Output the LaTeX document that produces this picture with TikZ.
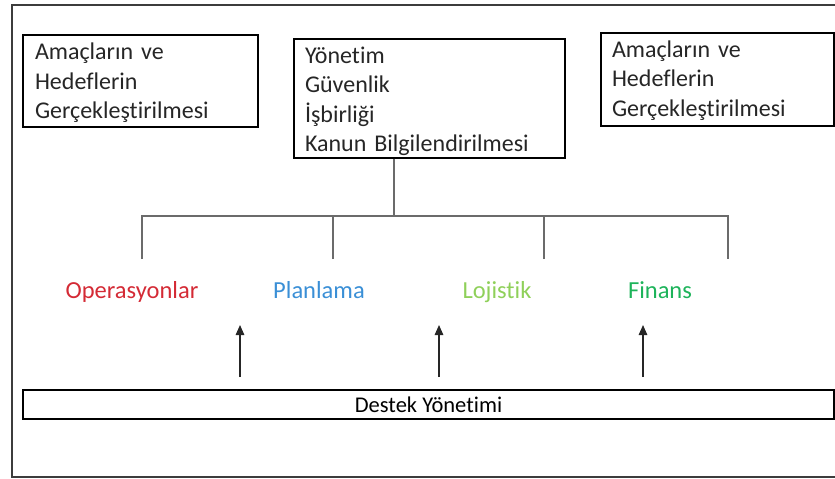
\documentclass[tikz,border=0pt]{standalone}
\usepackage{fontspec}
\setmainfont{Carlito}[Ligatures=NoCommon]
\usetikzlibrary{arrows.meta}
\definecolor{ink}{HTML}{262626}
\definecolor{linegray}{HTML}{6B6B6B}
\definecolor{opred}{HTML}{D42A35}
\definecolor{planblue}{HTML}{3A8FD6}
\definecolor{lojgreen}{HTML}{8FD05A}
\definecolor{fingreen}{HTML}{1DB35A}
% raise the first line's ascent so the text block sits a little lower in its box
\newcommand{\topstrut}[1]{\rule{0pt}{#1}}
\begin{document}
\begin{tikzpicture}[x=1pt,y=-1pt,
  frame/.style={draw=ink!90, line width=1.4pt},
  box/.style={draw=black, line width=1.4pt, rectangle, align=left, inner ysep=0pt,
    font=\fontsize{24}{29.5}\selectfont, text=ink},
  conn/.style={draw=linegray, line width=2.2pt},
  arr/.style={draw=ink, line width=1.4pt, -{Triangle[length=10pt,width=8.5pt]}},
  lbl/.style={font=\fontsize{24.5}{28}\selectfont, anchor=base}
]
\useasboundingbox (0,0) rectangle (835,479);
% outer frame
\draw[frame] (12,5) rectangle (840,477);

% top boxes
\node[box, minimum width=235, minimum height=92, text width=211, inner xsep=12]
  (goalsL) at (140.5,81) {\topstrut{21pt}Amaçların ve\\Hedeflerin\\Gerçekleştirilmesi};
\node[box, minimum width=271, minimum height=119, text width=249, inner xsep=11]
  (mgmt) at (429.5,98.5) {\topstrut{22.5pt}Yönetim\\Güvenlik\\İşbirliği\\Kanun Bilgilendirilmesi};
\node[box, minimum width=233, minimum height=93, text width=211, inner xsep=11]
  (goalsR) at (717.5,79.5) {\topstrut{19pt}Amaçların ve\\Hedeflerin\\Gerçekleştirilmesi};

% function labels
\node[lbl, text=opred]    (ops)  at (132,298) {Operasyonlar};
\node[lbl, text=planblue] (plan) at (319,298) {Planlama};
\node[lbl, text=lojgreen] (loj)  at (497,298) {Lojistik};
\node[lbl, text=fingreen] (fin)  at (660,298) {Finans};

% support bar
\node[draw=black, line width=1.4pt, minimum width=811, minimum height=29, inner sep=0pt,
  font=\fontsize{22.5}{24}\selectfont, text=black] (dest) at (428.5,404.5) {Destek Yönetimi};

% branch connector
\coordinate (hub) at (394,216);
\coordinate (t1) at (142,259);
\coordinate (t2) at (333,259);
\coordinate (t3) at (544,259);
\coordinate (t4) at (728,259);
\draw[conn] (mgmt.south -| hub) -- (hub);
\draw[conn] (t1) -- (t1 |- hub) -- (t4 |- hub) -- (t4);
\draw[conn] (t2) -- (t2 |- hub);
\draw[conn] (t3) -- (t3 |- hub);

% support arrows
\coordinate (a1) at (240,377); \coordinate (b1) at (240,325);
\coordinate (a2) at (439,377); \coordinate (b2) at (439,325);
\coordinate (a3) at (643,377); \coordinate (b3) at (643,325);
\draw[arr] (a1) -- (b1);
\draw[arr] (a2) -- (b2);
\draw[arr] (a3) -- (b3);
\end{tikzpicture}
\end{document}
